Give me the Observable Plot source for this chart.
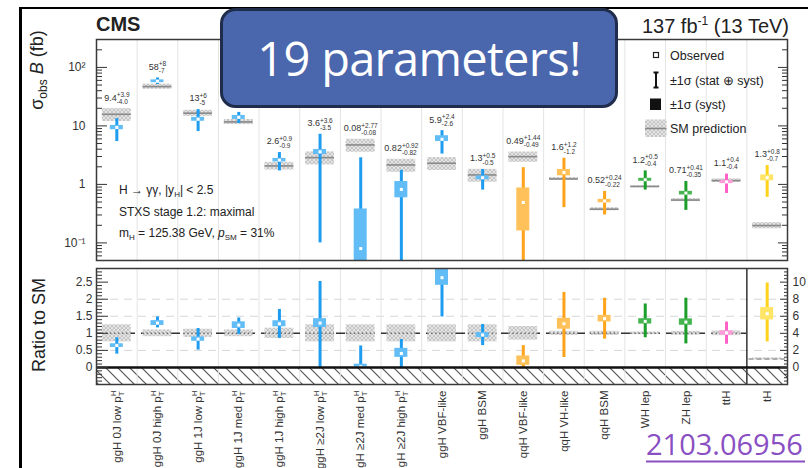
<!DOCTYPE html>
<html><head><meta charset="utf-8">
<script src="https://cdn.jsdelivr.net/npm/d3@7"></script>
<script src="https://cdn.jsdelivr.net/npm/@observablehq/plot@0.6"></script>
<style>
html,body{margin:0;padding:0;background:#fff;}
#root{position:relative;width:808px;height:468px;overflow:hidden;background:#fff;}
#root svg{position:absolute;left:0;}
</style></head>
<body><div id="root"></div>
<script>
// ---------------- data ----------------
const categories = ["ggH 0J low p_T^H","ggH 0J high p_T^H","ggH 1J low p_T^H","ggH 1J med p_T^H","ggH 1J high p_T^H",
  "ggH ≥2J low p_T^H","ggH ≥2J med p_T^H","ggH ≥2J high p_T^H","ggH VBF-like","ggH BSM",
  "qqH VBF-like","qqH VH-like","qqH BSM","WH lep","ZH lep","ttH","tH"];
const groups = ["ggH","ggH","ggH","ggH","ggH","ggH","ggH","ggH","ggH","ggH","qqH","qqH","qqH","VH","VH","ttH","tH"];
const observedLabel = ["9.4","58","13","14","2.6","3.6","0.08","0.82","5.9","1.3","0.49","1.6","0.52","1.2","0.71","1.1","1.3"];
const errUp   = ["3.9","8","6","3","0.9","3.6","2.77","0.92","2.4","0.5","1.44","1.2","0.24","0.5","0.41","0.4","0.8"];
const errDown = ["4.0","7","5","3","0.9","3.5","0.08","0.82","2.6","0.5","0.49","1.2","0.22","0.4","0.35","0.4","0.7"];
const systUp   = [0.8,3.2,1.0,1.1,0.18,0.36,0.30,0.30,0.9,0.10,0.38,0.20,0.035,0.07,0.05,0.07,0.15];
const systDown = [0.8,3.2,1.0,1.1,0.18,0.36,0.03,0.23,0.5,0.10,0.33,0.20,0.035,0.07,0.05,0.07,0.15];
const smPrediction = [15.8,47,16.5,11.7,2.07,2.87,4.73,2.15,2.3,1.45,2.98,1.24,0.377,0.92,0.54,1.16,0.198];
const smUncertainty = [0.25,0.10,0.12,0.10,0.15,0.25,0.25,0.25,0.25,0.25,0.20,0.06,0.06,0.04,0.06,0.07,0.12];
// ratio to SM (tH in right-axis units)
const ratio     = [0.64,1.30,0.83,1.24,1.28,1.30,0.02,0.41,2.63,0.95,0.19,1.28,1.43,1.35,1.33,1.01,6.3];
const ratioHigh = [0.87,1.48,1.14,1.45,1.70,2.52,0.63,0.82,3.70,1.26,0.64,2.20,2.03,1.86,2.03,1.33,9.9];
const ratioLow  = [0.39,1.16,0.51,0.97,0.85,0.00,0.00,0.00,1.48,0.64,0.00,0.29,0.83,0.87,0.69,0.68,3.0];
const topTicks = [0.1,1,10,100];
const topTickLabels = ["10⁻¹","1","10","10²"];
const ratioTicks = [0,0.5,1,1.5,2,2.5];
const ratioTickLabels = ["0","0.5","1","1.5","2","2.5"];
const rightTickLabels = ["0","2","4","6","8","10"];
const ratioGrid = [0.5,1.5,2];

// ---------------- setup ----------------
const FONT = '"Liberation Sans", Arial, Helvetica, sans-serif';
const n = categories.length;
const xDomain = [-0.5, n - 0.5];
const topDomain = [0.05, 300];
const ratioDomain = [-0.5, 2.9];
const rightPerLeft = 4;
const groupNames = ["ggH","qqH","VH","ttH","tH"];
const lineColor = d3.scaleOrdinal(groupNames, ["#1d9cf0","#ffa31a","#1c9f2a","#ff5fc6","#ffd21c"]);
const boxColor  = d3.scaleOrdinal(groupNames, ["#62bdf6","#ffc25a","#45b54f","#ff9bd9","#ffe566"]);
const bandHalf = 0.355, boxHalf = 0.16;

const ctx = document.createElement("canvas").getContext("2d");
function tw(s, size) { ctx.font = `${size}px "Liberation Sans"`; return ctx.measureText(s).width; }

const rows = d3.range(n).map(i => {
  const obs = +observedLabel[i];
  const f = groups[i] === "tH" ? rightPerLeft : 1;
  const r = ratio[i];
  return {
    i, group: groups[i], obs,
    lo: Math.max(obs - +errDown[i], topDomain[0]), hi: obs + +errUp[i],
    sLo: Math.max(obs - systDown[i], topDomain[0]), sHi: obs + systUp[i],
    sm: smPrediction[i], smLo: smPrediction[i] * (1 - smUncertainty[i]), smHi: smPrediction[i] * (1 + smUncertainty[i]),
    r: r / f, rLo: ratioLow[i] / f, rHi: ratioHigh[i] / f,
    rsLo: (r - r * systDown[i] / obs) / f, rsHi: (r + r * systUp[i] / obs) / f,
    rsm: 1 / f, rsmLo: (1 - smUncertainty[i]) / f, rsmHi: (1 + smUncertainty[i]) / f,
    main: groups[i] !== "tH"
  };
});
const boundaries = d3.range(n - 1).map(k => k + 0.5);

const topMinor = [];
for (let e = -2; e <= 2; e++) for (let m = 2; m <= 9; m++) { const v = m * 10 ** e; if (v >= topDomain[0] && v <= topDomain[1]) topMinor.push(v); }
const ratioMinor = d3.range(-5, 30).filter(k => k % 5 !== 0).map(k => k / 10);

const common = {
  width: 808, marginLeft: 96, marginRight: 21,
  x: {domain: xDomain, axis: null},
  style: {fontFamily: FONT, fontSize: "12px", color: "#222", background: "transparent"}
};

// ---------------- top panel ----------------
const topSvg = Plot.plot({
  ...common, height: 262, marginTop: 39, marginBottom: 2,
  y: {type: "log", domain: topDomain, axis: null},
  marks: [
    Plot.ruleX(boundaries, {x: d => d, stroke: "#e3e3e3", strokeWidth: 1}),
    Plot.rect(rows, {x1: d => d.i - bandHalf, x2: d => d.i + bandHalf, y1: "smLo", y2: "smHi", fill: "#ddd", className: "smband"}),
    Plot.ruleY(rows, {x1: d => d.i - bandHalf, x2: d => d.i + bandHalf, y: "sm", stroke: "#8a8a8a", strokeWidth: 1.6}),
    Plot.ruleX(rows, {x: "i", y1: "lo", y2: "hi", stroke: d => lineColor(d.group), strokeWidth: 3, clip: true}),
    Plot.rect(rows, {x1: d => d.i - boxHalf, x2: d => d.i + boxHalf, y1: "sLo", y2: "sHi", fill: d => boxColor(d.group), clip: true}),
    Plot.dot(rows, {x: "i", y: "obs", symbol: "square", r: 1.7, fill: "white"}),
    Plot.text(rows, {x: "i", y: d => Math.max(d.hi, d.smHi), text: d => observedLabel[d.i], dy: -11, fontSize: 9, fill: "#333", className: "vlabel"}),
    Plot.axisY(topTicks, {anchor: "left", tickSize: -11, tickFormat: () => "", label: null, stroke: "#333"}),
    Plot.axisY(topMinor, {anchor: "left", tickSize: -6, tickFormat: () => "", label: null, stroke: "#333"}),
    Plot.axisY(topTicks, {anchor: "right", tickSize: -10, tickFormat: () => "", label: null, stroke: "#333"}),
    Plot.axisY(topMinor, {anchor: "right", tickSize: -6, tickFormat: () => "", label: null, stroke: "#333"}),
    Plot.axisY(topTicks, {anchor: "left", tickSize: 0, tickPadding: 11, tickFormat: (d, k) => topTickLabels[topTicks.indexOf(d)], label: null, fontSize: 12, fill: "#333"}),
    Plot.frame({stroke: "#3a3a3a", strokeWidth: 1.5})
  ]
});
topSvg.style.top = "0px";

// ---------------- ratio panel ----------------
const botSvg = Plot.plot({
  ...common, height: 206, marginTop: 6, marginBottom: 84,
  y: {domain: ratioDomain, axis: null},
  marks: [
    Plot.rect([ratioDomain], {x1: () => xDomain[0], x2: () => xDomain[1], y1: d => d[0], y2: () => 0, fill: "#fff", className: "zerohatch"}),
    Plot.ruleY(ratioGrid, {stroke: "#d6d6d6", strokeDasharray: "8,6"}),
    Plot.ruleX(boundaries.slice(0, -1), {x: d => d, stroke: "#e3e3e3", strokeWidth: 1}),
    Plot.ruleY([1], {x1: () => xDomain[0], x2: () => rows.filter(d => d.main).length - 0.5, stroke: "#333", strokeWidth: 1.5, strokeDasharray: "9,6"}),
    Plot.rect(rows, {x1: d => d.i - bandHalf, x2: d => d.i + bandHalf, y1: "rsmLo", y2: "rsmHi", fill: "#ddd", className: "smband"}),
    Plot.ruleY(rows.filter(d => d.main), {x1: d => d.i - bandHalf, x2: d => d.i + bandHalf, y: "rsm", stroke: "#6f6f6f", strokeWidth: 1.5, strokeDasharray: "1.5,2.5"}),
    Plot.ruleY(rows.filter(d => !d.main), {x1: d => d.i - 0.45, x2: d => d.i + 0.45, y: "rsm", stroke: "#999", strokeWidth: 1.5, strokeDasharray: "5,3"}),
    Plot.ruleX(rows, {x: "i", y1: "rLo", y2: "rHi", stroke: d => lineColor(d.group), strokeWidth: 3, clip: true}),
    Plot.rect(rows, {x1: d => d.i - boxHalf, x2: d => d.i + boxHalf, y1: "rsLo", y2: "rsHi", fill: d => boxColor(d.group), clip: true}),
    Plot.dot(rows, {x: "i", y: "r", symbol: "square", r: 1.7, fill: "white", clip: true}),
    Plot.ruleX(boundaries.slice(-1), {x: d => d, stroke: "#333", strokeWidth: 1.5}),
    Plot.ruleY([0], {stroke: "#111", strokeWidth: 2.5}),
    Plot.axisY(ratioTicks, {anchor: "left", tickSize: -12, tickFormat: () => "", label: null, stroke: "#333"}),
    Plot.axisY(ratioMinor, {anchor: "left", tickSize: -6, tickFormat: () => "", label: null, stroke: "#333"}),
    Plot.axisY(ratioTicks, {anchor: "right", tickSize: -8, tickFormat: () => "", label: null, stroke: "#333"}),
    Plot.axisY(ratioMinor, {anchor: "right", tickSize: -4, tickFormat: () => "", label: null, stroke: "#333"}),
    Plot.axisY(ratioTicks, {anchor: "left", tickSize: 0, tickPadding: 4, tickFormat: d => ratioTickLabels[ratioTicks.indexOf(d)], label: null, fontSize: 12, fill: "#333"}),
    Plot.axisY(ratioTicks, {anchor: "right", tickSize: 0, tickPadding: 5, tickFormat: d => rightTickLabels[ratioTicks.indexOf(d)], label: null, fontSize: 12, fill: "#333"}),
    Plot.axisX(d3.range(n), {anchor: "bottom", tickSize: 0, tickPadding: 6, tickRotate: -90, tickFormat: i => categories[i], label: null, fontSize: 11.5, fill: "#333"}),
    Plot.frame({stroke: "#3a3a3a", strokeWidth: 1.5})
  ]
});
botSvg.style.top = "262px";

const root = document.getElementById("root");
root.appendChild(topSvg);
root.appendChild(botSvg);

// hatch fills
for (const svg of [topSvg, botSvg]) {
  d3.select(svg).selectAll(".smband rect").attr("fill", "url(#smHatch)");
  d3.select(svg).selectAll(".zerohatch rect").attr("fill", "url(#zeroHatch)");
  // rich text: p_T^H
  d3.select(svg).selectAll("text").each(function() {
    const s = this.textContent, k = s.indexOf("p_T^H");
    if (k < 0) return;
    const el = d3.select(this), small = 8;
    el.text(s.slice(0, k) + "p");
    el.append("tspan").attr("font-size", small).attr("dy", 3).text("T");
    el.append("tspan").attr("font-size", small).attr("dx", -tw("T", small)).attr("dy", -8).text("H");
  });
}
// value labels with asymmetric errors
d3.select(topSvg).selectAll(".vlabel text").each(function(i) {
  const el = d3.select(this), small = 6.5;
  const up = "+" + errUp[i], dn = "-" + errDown[i];
  el.text(observedLabel[i]);
  el.append("tspan").attr("font-size", small).attr("dy", -3.5).text(up);
  el.append("tspan").attr("font-size", small).attr("dx", -tw(up, small)).attr("dy", 7).text(dn);
});

// ---------------- overlay: titles, legend, slide decorations ----------------
const ov = document.createElementNS("http://www.w3.org/2000/svg", "svg");
ov.setAttribute("width", 808); ov.setAttribute("height", 468);
ov.style.top = "0px"; ov.style.pointerEvents = "none";
ov.innerHTML = `
<defs>
  <pattern id="smHatch" width="4" height="4" patternUnits="userSpaceOnUse">
    <rect width="4" height="4" fill="#e4e4e4"/>
    <path d="M0,0L4,4M4,0L0,4" stroke="#bfbfbf" stroke-width="0.8"/>
  </pattern>
  <pattern id="zeroHatch" width="12" height="12" patternUnits="userSpaceOnUse">
    <rect width="12" height="12" fill="#fff"/>
    <path d="M0,0L12,12M-1,11L1,13M11,-1L13,1" stroke="#555" stroke-width="1.2"/>
  </pattern>
</defs>
<g font-family='${FONT}' fill="#222">
  <text x="96" y="31" font-size="20" font-weight="bold">CMS</text>
  <text x="789" y="33" font-size="20" text-anchor="end">137 fb<tspan font-size="12" dy="-8">-1</tspan><tspan dy="8"> (13 TeV)</tspan></text>
  <text transform="translate(43,70) rotate(-90)" font-size="18" text-anchor="middle">σ<tspan font-size="12" dy="4">obs</tspan><tspan dy="-4"> </tspan><tspan font-style="italic">B</tspan> (fb)</text>
  <text transform="translate(45,325) rotate(-90)" font-size="18" text-anchor="middle">Ratio to SM</text>
  <text x="119" y="194" font-size="12">H → γγ, |y<tspan font-size="8" dy="3">H</tspan><tspan dy="-3">| &lt; 2.5</tspan></text>
  <text x="119" y="215.5" font-size="12">STXS stage 1.2: maximal</text>
  <text x="119" y="237" font-size="12">m<tspan font-size="8" dy="3">H</tspan><tspan dy="-3"> = 125.38 GeV, </tspan><tspan font-style="italic">p</tspan><tspan font-size="8" dy="3">SM</tspan><tspan dy="-3"> = 31%</tspan></text>
  <rect x="653.5" y="52.5" width="5" height="5" fill="#fff" stroke="#222" stroke-width="1.2"/>
  <path d="M653.5,72.5H658.5M656,72.5V87.5M653.5,87.5H658.5" stroke="#111" stroke-width="2" fill="none"/>
  <rect x="650" y="98.5" width="11" height="11.5" fill="#111"/>
  <rect x="645" y="119.5" width="21.5" height="17.5" fill="url(#smHatch)"/>
  <line x1="645" x2="666.5" y1="128.5" y2="128.5" stroke="#888" stroke-width="1.6"/>
  <text x="670" y="59.5" font-size="12.5">Observed</text>
  <text x="670" y="84.5" font-size="12.5">±1σ (stat ⊕ syst)</text>
  <text x="670" y="108.5" font-size="12.5">±1σ (syst)</text>
  <text x="670" y="133" font-size="12.5">SM prediction</text>
</g>
<rect x="19" y="7" width="3" height="461" fill="#000"/>
<rect x="19" y="7" width="789" height="2" fill="#000"/>
<rect x="221.5" y="9.5" width="395" height="97" rx="14" ry="14" fill="#4a66ac" stroke="#1f2c4c" stroke-width="3"/>
<text x="419" y="76" font-family='"Open Sans", "Noto Sans", sans-serif' font-size="47" letter-spacing="-0.7" fill="#fff" text-anchor="middle">19 parameters!</text>
<text x="646" y="455" font-family='"Open Sans", "Noto Sans", sans-serif' font-size="29" fill="#8a4fc2">2103.06956</text>
<rect x="646" y="460.5" width="159" height="2" fill="#8a4fc2"/>
`;
root.appendChild(ov);
</script>
</body></html>
